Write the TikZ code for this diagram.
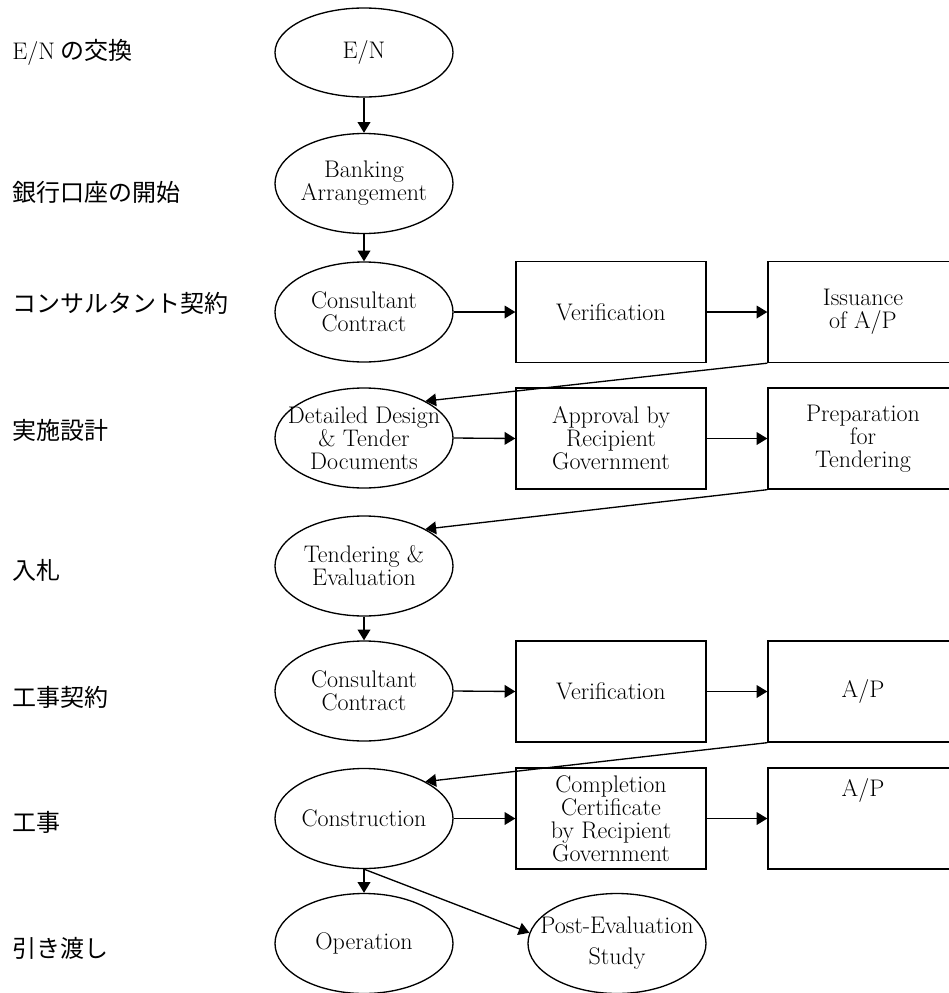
\documentclass[tikz,border=0pt]{standalone}
\usepackage{fontspec}
\newfontfamily\jpfont{Noto Sans CJK JP}
\usetikzlibrary{shapes.geometric,arrows.meta}
\begin{document}
\begin{tikzpicture}[
        x=0.75pt, y=-0.75pt,
        every node/.style={font=\fontsize{18}{17.25}\selectfont},
        phase/.style={anchor=west, inner sep=0pt, font=\jpfont\fontsize{18}{21}\selectfont},
        event/.style={draw, ellipse, line width=1pt, inner sep=0pt, minimum width=133.5pt, minimum height=75pt},
        stage/.style={draw, rectangle, line width=1pt, inner sep=0pt, minimum width=142.5pt, minimum height=75.75pt, align=center},
        every label/.style={align=center, inner sep=0pt},
        flow/.style={-{Triangle[length=8pt,width=9.5pt]}, line width=1pt},
    ]
        \clip (0,0) rectangle (949,993);

        \node[phase] (p1) at (12,52) {{\rmfamily\fontsize{18}{17.25}\selectfont E/N} の交換};
        \node[phase] (p2) at (12,192) {銀行口座の開始};
        \node[phase] (p3) at (12,303) {コンサルタント契約};
        \node[phase] (p4) at (12,430) {実施設計};
        \node[phase] (p5) at (12,570) {入札};
        \node[phase] (p6) at (12,697) {工事契約};
        \node[phase] (p7) at (12,822) {工事};
        \node[phase] (p8) at (12,948) {引き渡し};

        \node[event, minimum height=66.75pt, label={center:E/N}] (en) at (364,52.5) {};
        \node[event, label={center:Banking\\Arrangement}] (bank) at (364,183.5) {};
        \node[event, label={center:Consultant\\Contract}] (cc) at (364,312) {};
        \node[event, label={center:Detailed Design\\\& Tender\\Documents}] (dd) at (364,438) {};
        \node[event, label={center:Tendering \&\\Evaluation}] (te) at (364,566) {};
        \node[event, label={center:Consultant\\Contract}] (cc2) at (364,691) {};
        \node[event, label={center:Construction}] (con) at (364,818.5) {};
        \node[event, label={center:Operation}] (op) at (364,943.5) {};
        \node[event, label={center:Post-Evaluation\\[6pt]Study}] (pe) at (617,943.5) {};

        \node[stage] (ver) at (611,312) {Verification};
        \node[stage] (iss) at (863,312) {Issuance\\of A/P};
        \node[stage] (appr) at (611,438.5) {Approval by\\Recipient\\Government};
        \node[stage] (prep) at (863,438.5) {Preparation\\for\\Tendering};
        \node[stage] (ver2) at (611,691.5) {Verification};
        \node[stage] (ap) at (863,691.5) {A/P};
        \node[stage] (cert) at (611,818.5) {Completion\\Certificate\\by Recipient\\Government};
        \node[stage, label={[yshift=21pt]center:A/P}] (ap2) at (863,818.5) {};

        \draw[flow] (en.south) -- (bank.north);
        \draw[flow] (bank.south) -- (cc.north);
        \draw[flow] (cc.east) -- (ver.west);
        \draw[flow] (ver.east) -- (iss.west);
        \draw[flow] (iss.south west) -- (dd.31);
        \draw[flow] (dd.east) -- (appr.west);
        \draw[flow] (appr.east) -- (prep.west);
        \draw[flow] (prep.south west) -- (te.31);
        \draw[flow] (te.south) -- (cc2.north);
        \draw[flow] (cc2.east) -- (ver2.west);
        \draw[flow] (ver2.east) -- (ap.west);
        \draw[flow] (ap.south west) -- (con.31);
        \draw[flow] (con.east) -- (cert.west);
        \draw[flow] (cert.east) -- (ap2.west);
        \draw[flow] (con.south) -- (op.north);
        \draw[flow] (con.south) -- (pe.173);
\end{tikzpicture}
\end{document}
